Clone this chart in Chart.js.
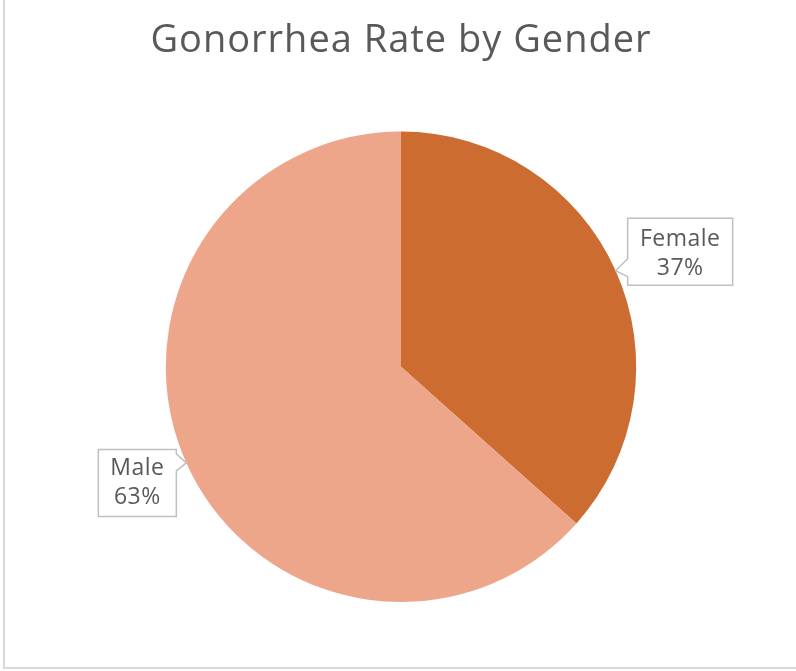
<!DOCTYPE html>
<html>
<head>
<meta charset="utf-8">
<script src="https://cdn.jsdelivr.net/npm/chart.js@4.4.1/dist/chart.umd.min.js"></script>
<style>
  html, body { margin: 0; padding: 0; background: #fff; }
  #wrap { position: relative; width: 796px; height: 671px; }
</style>
</head>
<body>
<div id="wrap"><canvas id="pieChart" width="796" height="671"></canvas></div>
<script>
const categories = ['Female', 'Male'];
const shares = [36.6, 63.4];
const sliceColors = ['#CD6C30', '#EDA68A'];

// frame lines (left + bottom) like the original chart box,
// plus a bit of letter spacing to mimic the wide original font
const frameLines = {
  id: 'frameLines',
  beforeDraw(chart) {
    const c = chart.ctx;
    c.save();
    c.strokeStyle = '#d9d9d9';
    c.lineWidth = 2;
    c.beginPath();
    c.moveTo(4, 0);
    c.lineTo(4, 668);
    c.lineTo(796, 668);
    c.stroke();
    c.restore();
    c.letterSpacing = '1px';
  },
  afterDraw(chart) {
    chart.ctx.letterSpacing = '0px';
  }
};

// callout boxes pointing at each slice
const callouts = {
  id: 'callouts',
  afterDatasetsDraw(chart) {
    const c = chart.ctx;
    const meta = chart.getDatasetMeta(0);
    const total = shares.reduce((a, b) => a + b, 0);
    c.save();
    meta.data.forEach((arc, i) => {
      const mid = (arc.startAngle + arc.endAngle) / 2;
      const tx = arc.x + Math.cos(mid) * arc.outerRadius;
      const ty = arc.y + Math.sin(mid) * arc.outerRadius;
      const right = Math.cos(mid) > 0;
      const w = right ? 105 : 78, h = 67;
      let bx, by;
      if (right) { bx = tx + 12; by = ty - 19 - h / 2; }
      else { bx = tx - 10 - w; by = ty + 20 - h / 2; }

      c.beginPath();
      c.moveTo(bx, by);
      c.lineTo(bx + w, by);
      if (!right) {
        c.lineTo(bx + w, ty - 9);
        c.lineTo(tx, ty);
        c.lineTo(bx + w, ty + 8);
      }
      c.lineTo(bx + w, by + h);
      c.lineTo(bx, by + h);
      if (right) {
        c.lineTo(bx, ty + 6);
        c.lineTo(tx, ty);
        c.lineTo(bx, ty - 12);
      }
      c.closePath();
      c.fillStyle = '#fff';
      c.fill();
      c.strokeStyle = '#bfbfbf';
      c.lineWidth = 1.5;
      c.stroke();

      c.fillStyle = '#595959';
      c.font = '23px "Open Sans", sans-serif';
      c.letterSpacing = '0.5px';
      c.textAlign = 'center';
      c.textBaseline = 'middle';
      const pct = Math.round(shares[i] / total * 100) + '%';
      const dy = right ? 2 : 0;
      c.fillText(categories[i], bx + w / 2, by + h / 2 - 14 + dy);
      c.fillText(pct, bx + w / 2, by + h / 2 + 15 + dy);
    });
    c.restore();
  }
};

new Chart(document.getElementById('pieChart'), {
  type: 'pie',
  data: {
    labels: categories,
    datasets: [{
      data: shares,
      backgroundColor: sliceColors,
      borderWidth: 0
    }]
  },
  options: {
    responsive: false,
    animation: false,
    layout: { padding: { left: 6, right: 0, bottom: 69 } },
    plugins: {
      legend: { display: false },
      tooltip: { enabled: false },
      title: {
        display: true,
        text: 'Gonorrhea Rate by Gender',
        color: '#595959',
        font: { family: '"Open Sans", sans-serif', size: 38, weight: 'normal' },
        padding: { top: 18, bottom: 68 }
      }
    }
  },
  plugins: [frameLines, callouts]
});
</script>
</body>
</html>
